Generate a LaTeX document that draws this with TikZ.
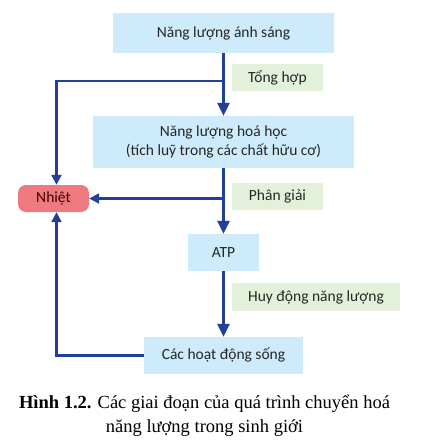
\documentclass[tikz,border=0pt]{standalone}
\usepackage{fontspec}
\setmainfont{Liberation Serif}
\newfontfamily\diagfont{Carlito}
\usetikzlibrary{arrows.meta}

\definecolor{boxblue}{HTML}{CDEBFA}
\definecolor{boxgreen}{HTML}{E3F1DA}
\definecolor{heatred}{HTML}{EE7A7F}
\definecolor{arrowblue}{HTML}{22409A}

\tikzset{
  diagtext/.style={font=\diagfont\fontsize{15.5}{18.5}\selectfont, text=black!85},
  stagebox/.style={diagtext, fill=boxblue, inner sep=0pt, align=center},
  procbox/.style={diagtext, fill=boxgreen, inner sep=0pt},
  heatbox/.style={diagtext, fill=heatred, rounded corners=8pt, inner sep=0pt, text=black!75!red},
  mainflow/.style={draw=arrowblue, line width=3pt, -{Triangle[width=12pt,length=13pt]}},
  sideflow/.style={draw=arrowblue, line width=2.2pt, -{Triangle[width=10pt,length=10pt]}}
}

\begin{document}
\begin{tikzpicture}[x=1pt,y=-1pt]
				\useasboundingbox (0,0) rectangle (421,445);

				\node[stagebox, minimum width=221pt, minimum height=40pt] (light) at (223.5,33) {Năng lượng ánh sáng};
				\node[procbox, minimum width=91pt, minimum height=27pt] (synth) at (277.5,77.5) {Tổng hợp};

				\node[stagebox, minimum width=261pt, minimum height=52pt] (chem) at (223.5,142) {Năng lượng hoá học\\(tích luỹ trong các chất hữu cơ)};
				\node[procbox, minimum width=91pt, minimum height=27pt] (split) at (277.5,196.5) {Phân giải};

				\node[heatbox, minimum width=71pt, minimum height=27pt] (heat) at (53.5,198.5) {Nhiệt};

				\node[stagebox, minimum width=71pt, minimum height=37pt] (atp) at (223.5,252.5) {ATP};
				\node[procbox, minimum width=168pt, minimum height=28pt] (mobil) at (316,297) {Huy động năng lượng};

				\node[stagebox, minimum width=159pt, minimum height=37pt] (life) at (223.5,355.5) {Các hoạt động sống};

				\draw[mainflow] (light) -- (chem);
				\draw[mainflow] (chem) -- (atp);
				\draw[mainflow] (atp) -- (life);

				\coordinate (fork1) at (223.5,81);
				\coordinate (fork2) at (223.5,198.5);
				\draw[sideflow] (fork1) -| ([xshift=3pt]heat.north);
				\draw[sideflow] (fork2) -- (heat.east);
				\draw[sideflow] (life.west) -| ([xshift=3pt]heat.south);

				\node[font=\fontsize{18.5}{24}\selectfont, align=center] (caption) at (204.5,416) {\textbf{Hình 1.2.} Các giai đoạn của quá trình chuyển hoá\\năng lượng trong sinh giới};
\end{tikzpicture}
\end{document}
